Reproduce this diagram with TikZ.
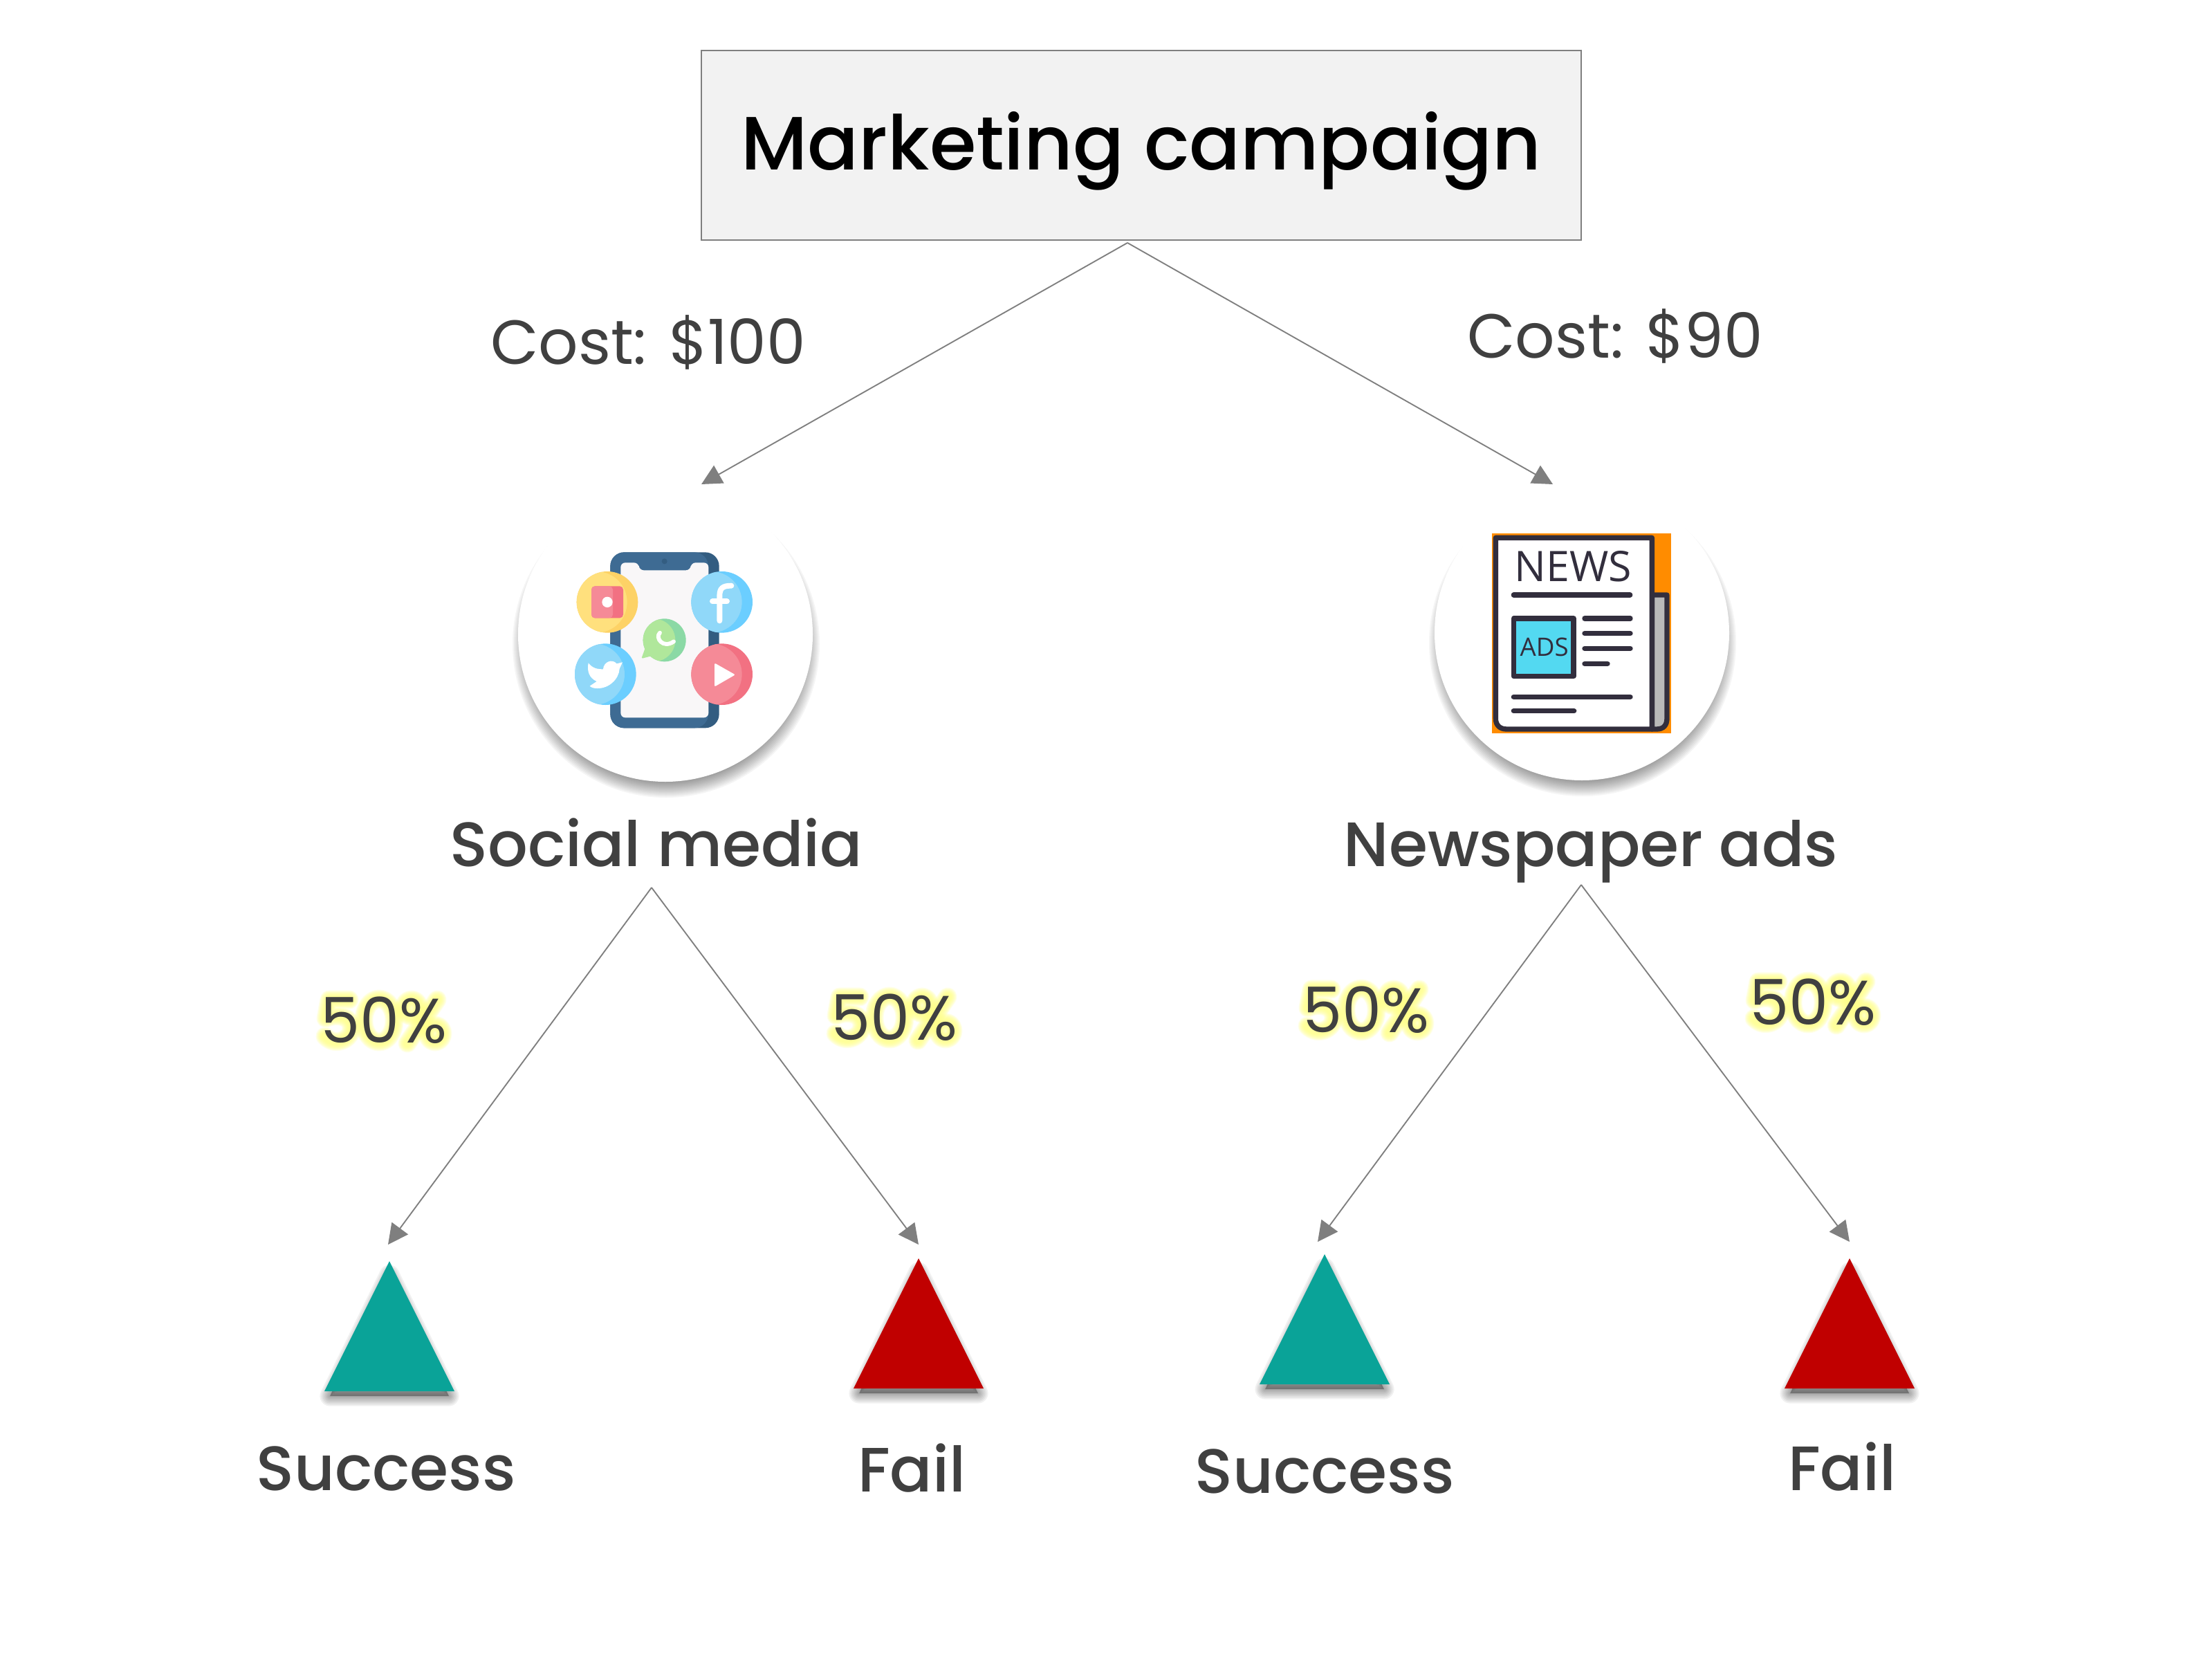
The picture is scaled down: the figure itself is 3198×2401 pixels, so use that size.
\documentclass[tikz,border=0pt]{standalone}
\usepackage{fontspec}
\setmainfont{Poppins Medium}
\newfontfamily\regfont{Poppins}
\newfontfamily\opensansfont{Open Sans}
\usetikzlibrary{arrows.meta}
\definecolor{txt}{HTML}{404040}
\definecolor{conn}{HTML}{7F7F7F}
\definecolor{teal}{HTML}{0AA398}
\definecolor{redtri}{HTML}{C00000}
\definecolor{boxfill}{HTML}{F2F2F2}
\definecolor{phone}{HTML}{3E6B93}
\definecolor{phonedark}{HTML}{335D81}
\definecolor{screen}{HTML}{F9F7F8}
\definecolor{yel}{HTML}{FFE07D}
\definecolor{yeld}{HTML}{FDD266}
\definecolor{pinkl}{HTML}{F58A97}
\definecolor{pinkd}{HTML}{F27182}
\definecolor{blul}{HTML}{90D8F9}
\definecolor{blud}{HTML}{6BCEFF}
\definecolor{grnl}{HTML}{B0E79B}
\definecolor{grnd}{HTML}{8BD9A5}
\definecolor{ink}{HTML}{322E3D}
\definecolor{cyanbox}{HTML}{53D9F1}
\definecolor{orangebg}{HTML}{FF8C00}
\definecolor{panel}{HTML}{B9B9B9}
\definecolor{glowy}{HTML}{FFFF80}
\tikzset{
  x=0.24pt,y=-0.24pt,
  conn/.style={draw=conn,line width=0.45pt,-{Triangle[width=7pt,length=7pt,fill=conn]}},
  lab/.style={text=txt,font=\fontsize{21.75}{26}\selectfont,inner sep=0pt,anchor=base},
  costlab/.style={text=txt,font=\regfont\fontsize{21.6}{26}\selectfont,inner sep=0pt,anchor=base},
  pct/.style={text=txt,font=\regfont\fontsize{21.8}{25}\selectfont,inner sep=0pt,anchor=center},
  titlebox/.style={draw=conn,line width=0.4pt,fill=boxfill,minimum width=1272*0.24pt,minimum height=274*0.24pt,inner sep=0pt,text=black,font=\fontsize{26.2}{32}\selectfont,text height=21pt,text depth=3.8pt},
  iconcircle/.style={circle,fill=white,minimum size=426*0.24pt,inner sep=0pt},
  gstroke/.style={draw=glowy,line cap=round,line join=round,opacity=0.16},
  ic/.style={line cap=round,line join=round},
}
% soft shadow of a disc
\newcommand{\discshadow}[2]{%
  \foreach \rr in {222,220,218,216,214,212,210,208,206,204,202,200,198}{
    \fill[black,opacity=0.04] (#1+1,#2+14) circle[radius=\rr];
  }}
% soft shadow of a triangle: apex x, apex y, half width, base y
\newcommand{\trishadow}[4]{%
  \foreach \ww in {1,2,3,4,5,6,7}{
    \filldraw[black,opacity=0.055,line width=\ww pt,line join=round]
      (#1,#2+20) -- (#1+#3-8,#4+7) -- (#1-#3+8,#4+7) -- cycle;
  }}
% crescent-shaded disc
\newcommand{\shadedisc}[6]{% cx cy r dark light shift
  \fill[#4] (#1,#2) circle[radius=#3];
  \begin{scope}
    \clip (#1,#2) circle[radius=#3];
    \fill[#5] (#1-#6,#2) circle[radius=#3];
  \end{scope}}
% yellow glow behind a 50% label, top-left of the digits at #1,#2
\newcommand{\glowmark}[2]{%
  \begin{scope}[shift={(#1,#2)}]
    \foreach \ww in {6.5,6,5.5,5,4.5,4,3.5,3,2.5}{
      \draw[gstroke,line width=\ww pt]
        (38,3) -- (9,3) -- (4,30) .. controls (22,22) and (42,28) .. (41,45)
        .. controls (41,60) and (18,72) .. (3,56);
      \draw[gstroke,line width=\ww pt] (81,33) ellipse[x radius=22,y radius=31];
      \draw[gstroke,line width=\ww pt] (128,15) ellipse[x radius=11,y radius=12];
      \draw[gstroke,line width=\ww pt] (162,52) ellipse[x radius=11,y radius=12];
      \draw[gstroke,line width=\ww pt] (165,3) -- (122,66);
    }
  \end{scope}}
\begin{document}
\begin{tikzpicture}
\useasboundingbox (0,0) rectangle (3198,2401);

% --- anchors for connectors
\coordinate (rootout) at (1630,351);
\coordinate (socin) at (1014,700);
\coordinate (newsin) at (2245,700);
\coordinate (socout) at (942,1283);
\coordinate (newsout) at (2286,1279);
\coordinate (s1in) at (561,1799);
\coordinate (f1in) at (1328,1799);
\coordinate (s2in) at (1905,1795);
\coordinate (f2in) at (2674,1795);

% --- title
\node[titlebox] (root) at (1650,210) {Marketing campaign};

% --- icon discs
\discshadow{962}{917}
\discshadow{2287}{915}
\node[iconcircle] (socdisc) at (962,917) {};
\node[iconcircle] (newsdisc) at (2287,915) {};

% --- social media icon (coordinates are those of a 3x crop)
\begin{scope}[shift={(720,680)},scale=1/3]
  \fill[phonedark,rounded corners=4.8pt] (487,355) rectangle (959,1117);
  \fill[phone,rounded corners=4.8pt] (487,355) rectangle (912,1117);
  \fill[screen,rounded corners=1.6pt] (532,400) -- (610,400) -- (612,433) -- (835,433) -- (837,400) -- (913,400) -- (913,1072) -- (532,1072) -- cycle;
  \fill[phonedark] (722,394) circle[radius=12];
  % instagram
  \shadedisc{474}{571}{133}{yeld}{yel}{47}
  \fill[pinkd,rounded corners=1.2pt] (405,502) rectangle (543,640);
  \fill[pinkl,rounded corners=1.2pt] (405,502) rectangle (498,640);
  \fill[white] (474,571) circle[radius=23];
  % facebook
  \shadedisc{971}{571}{133}{blud}{blul}{46}
  \draw[white,ic,line width=1.9pt] (961,652) -- (961,545) .. controls (961,510) and (975,500) .. (1012,500);
  \draw[white,ic,line width=1.9pt] (930,568) -- (993,568);
  % twitter
  \shadedisc{466}{884}{133}{blud}{blul}{50}
  \fill[white,ic] (392,835) .. controls (410,858) and (430,862) .. (456,862)
    .. controls (458,830) and (495,815) .. (515,838) -- (540,832) -- (527,860)
    .. controls (525,905) and (480,947) .. (430,945) .. controls (415,945) and (405,942) .. (398,935)
    -- (428,915) .. controls (395,900) and (385,870) .. (392,835) -- cycle;
  % youtube
  \shadedisc{971}{884}{133}{pinkd}{pinkl}{46}
  \fill[white,ic,rounded corners=0.5pt] (939,835) -- (1029,886) -- (939,938) -- cycle;
  % whatsapp
  \fill[grnd] (722,736) circle[radius=93];
  \begin{scope}
    \clip (722,736) circle[radius=93];
    \fill[grnl] (676,736) circle[radius=93];
  \end{scope}
  \fill[grnl,ic,rounded corners=0.4pt] (640,765) -- (622,816) -- (672,803) -- cycle;
  \draw[white,ic,line width=1.4pt] (702,704) .. controls (680,725) and (715,775) .. (762,742);
\end{scope}

% --- newspaper icon (coordinates are those of a 3x crop)
\begin{scope}[shift={(2050,680)},scale=1/3]
  \fill[orangebg] (321,273) rectangle (1098,1139);
  \filldraw[fill=panel,draw=ink,line width=1.76pt,line join=round]
    (1015,540) -- (1080,540) -- (1080,1075) .. controls (1080,1105) and (1065,1122) .. (1035,1122) -- (1015,1122) -- cycle;
  \filldraw[fill=white,draw=ink,line width=1.76pt,line join=round]
    (337,292) -- (1015,292) -- (1015,1122) -- (385,1122) .. controls (355,1122) and (337,1105) .. (337,1075) -- cycle;
  \node[font=\opensansfont\fontsize{14.6}{17}\selectfont,text=ink,inner sep=0pt] (newsword) at (672,416) {NEWS};
  \draw[ink,ic,line width=1.76pt] (415,540) -- (920,540);
  \filldraw[fill=cyanbox,draw=ink,line width=1.76pt,line join=round] (415,642) rectangle (675,893);
  \node[font=\opensansfont\fontsize{8.8}{10}\selectfont,text=ink,inner sep=0pt] (adsword) at (548,765) {ADS};
  \draw[ink,ic,line width=1.76pt] (723,642) -- (921,642);
  \draw[ink,ic,line width=1.76pt] (723,707) -- (921,707);
  \draw[ink,ic,line width=1.76pt] (723,772) -- (921,772);
  \draw[ink,ic,line width=1.76pt] (723,838) -- (822,838);
  \draw[ink,ic,line width=1.76pt] (415,982) -- (921,982);
  \draw[ink,ic,line width=1.76pt] (415,1043) -- (677,1043);
\end{scope}

% --- triangles
\trishadow{563}{1823}{94}{2011}
\trishadow{1328}{1819}{94}{2007}
\trishadow{1915}{1813}{94}{2001}
\trishadow{2674}{1819}{94}{2007}
\fill[teal] (563,1823) -- (657,2011) -- (469,2011) -- cycle;
\fill[redtri] (1328,1819) -- (1422,2007) -- (1234,2007) -- cycle;
\fill[teal] (1915,1813) -- (2009,2001) -- (1821,2001) -- cycle;
\fill[redtri] (2674,1819) -- (2768,2007) -- (2580,2007) -- cycle;

% --- connectors
\draw[conn] (rootout) -- (socin);
\draw[conn] (rootout) -- (newsin);
\draw[conn] (socout) -- (s1in);
\draw[conn] (socout) -- (f1in);
\draw[conn] (newsout) -- (s2in);
\draw[conn] (newsout) -- (f2in);

% --- labels
\node[costlab] (cost1) at (937,526) {Cost: \$100};
\node[costlab] (cost2) at (2335,517) {Cost: \$90};
\node[lab] (socname) at (949,1252) {Social media};
\node[lab] (newsname) at (2300,1252) {Newspaper ads};
\node[lab] (succ1) at (558,2154) {Success};
\node[lab] (fail1) at (1318,2156) {Fail};
\node[lab] (succ2) at (1915,2158) {Success};
\node[lab] (fail2) at (2663,2154) {Fail};

\glowmark{467}{1442}
\glowmark{1205}{1438}
\glowmark{1887}{1427}
\glowmark{2533}{1416}
\node[pct] (p1) at (467+88,1442+33) {50\%};
\node[pct] (p2) at (1205+88,1438+33) {50\%};
\node[pct] (p3) at (1887+88,1427+33) {50\%};
\node[pct] (p4) at (2533+88,1416+33) {50\%};
\end{tikzpicture}
\end{document}
